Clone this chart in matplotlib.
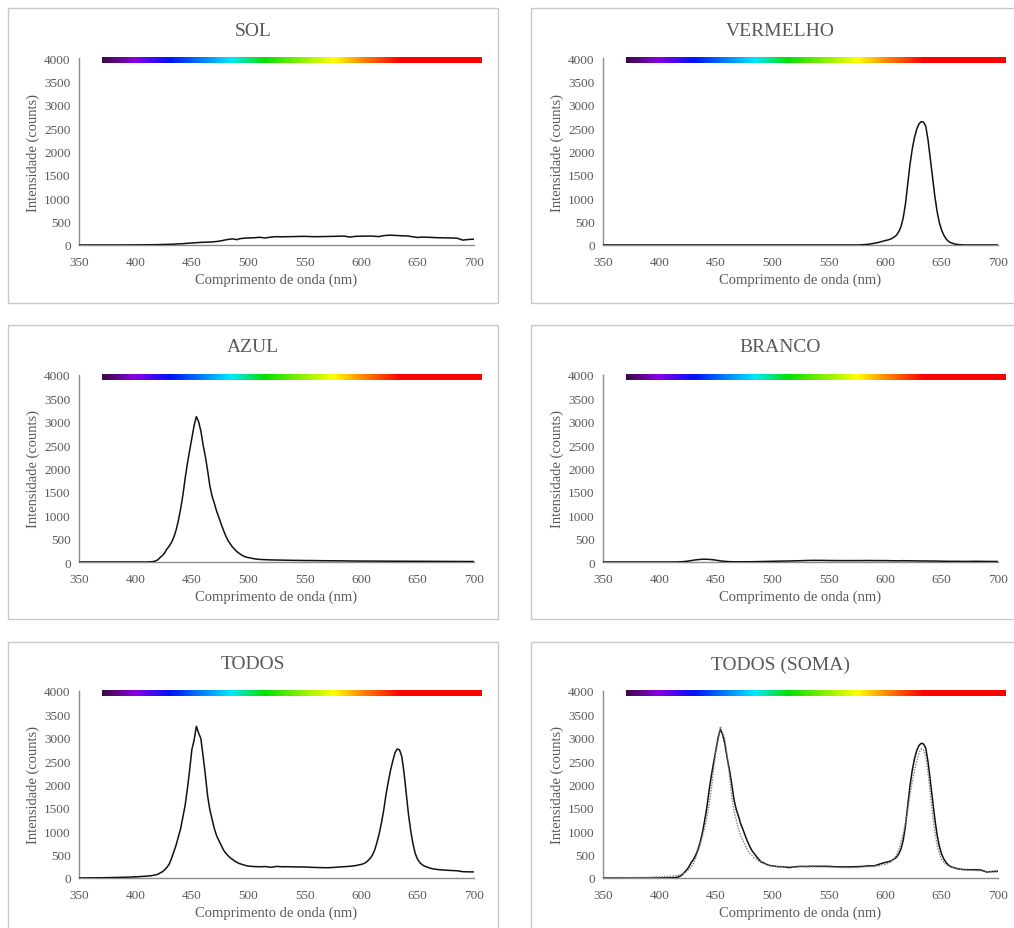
import numpy as np
import matplotlib
matplotlib.use('Agg')
import matplotlib.pyplot as plt
from matplotlib.colors import LinearSegmentedColormap
from matplotlib.patches import Rectangle

plt.rcParams['font.family'] = ['Liberation Serif', 'DejaVu Serif']

# wavelength grid (nm): finer steps around the two LED peaks
wavelength = np.concatenate([np.arange(350, 410, 10), np.arange(410, 500, 2),
                             np.arange(500, 596, 5), np.arange(596, 670, 2),
                             np.arange(670, 701, 5)])

sol = np.array([
    0, 0, 0, 0, 0, 2,
    3, 4, 5, 6, 7, 8, 9, 11, 12, 13,
    14, 16, 18, 21, 23, 25, 29, 32, 36, 40,
    43, 47, 50, 53, 56, 58, 60, 62, 64, 66,
    70, 75, 82, 90, 100, 110, 118, 126, 130, 122,
    115, 132, 140, 144, 148,
    150, 155, 165, 150, 170, 178, 175, 178, 180, 183,
    185, 180, 178, 180, 182, 185, 188, 190, 170, 185,
    186, 187, 188, 189, 190, 190, 191, 190, 186, 183,
    180, 192, 200, 205, 208, 210, 207, 205, 203, 200,
    198, 196, 195, 190, 182, 175, 168, 160, 165, 170,
    168, 166, 165, 162, 160, 158, 156,
    155, 152, 150, 145, 105, 118, 125])

vermelho = np.array([
    0, 0, 0, 0, 0, 0,
    0, 0, 0, 0, 0, 0, 0, 0, 0, 0,
    0, 0, 0, 0, 0, 0, 0, 0, 0, 0,
    0, 0, 0, 0, 0, 0, 0, 0, 0, 0,
    0, 0, 0, 0, 0, 0, 0, 0, 0, 0,
    0, 0, 0, 0, 0,
    0, 0, 0, 0, 0, 0, 0, 0, 0, 0,
    0, 0, 0, 0, 0, 0, 5, 15, 35, 60,
    70, 80, 95, 105, 120, 140, 170, 210, 280, 390,
    580, 880, 1300, 1720, 2050, 2300, 2480, 2590, 2640, 2630,
    2540, 2250, 1850, 1450, 1050, 720, 480, 320, 210, 130,
    80, 50, 35, 20, 12, 6, 3,
    0, 0, 0, 0, 0, 0, 0])

azul = np.array([
    0, 0, 0, 0, 0, 0,
    0, 2, 4, 10, 25, 50, 100, 140, 200, 280,
    340, 420, 530, 680, 880, 1130, 1420, 1780, 2100, 2380,
    2650, 2920, 3110, 3000, 2800, 2500, 2250, 1950, 1620, 1400,
    1250, 1080, 950, 810, 680, 560, 460, 390, 320, 270,
    220, 185, 150, 125, 105,
    95, 70, 55, 50, 45, 42, 40, 38, 35, 34,
    32, 31, 30, 28, 27, 26, 25, 24, 22, 21,
    20, 20, 20, 20, 19, 19, 19, 19, 19, 18,
    18, 18, 18, 18, 17, 17, 17, 17, 17, 16,
    16, 16, 16, 16, 15, 15, 15, 15, 15, 15,
    15, 14, 14, 14, 14, 13, 13,
    13, 12, 12, 11, 11, 10, 10])

branco = np.array([
    0, 0, 0, 0, 0, 0,
    0, 0, 0, 2, 4, 6, 10, 16, 22, 30,
    38, 45, 50, 55, 58, 60, 58, 56, 52, 46,
    40, 32, 24, 18, 14, 10, 8, 6, 5, 5,
    5, 4, 5, 5, 5, 6, 6, 7, 8, 9,
    10, 11, 12, 13, 14,
    15, 18, 20, 22, 25, 28, 32, 35, 35, 34,
    32, 31, 30, 30, 30, 31, 30, 32, 31, 30,
    30, 30, 30, 29, 28, 27, 26, 25, 26, 27,
    28, 27, 26, 25, 25, 24, 23, 23, 22, 22,
    22, 21, 21, 20, 20, 19, 18, 17, 16, 15,
    15, 14, 14, 15, 15, 14, 13,
    12, 13, 15, 14, 12, 11, 10])

todos = np.array([
    0, 3, 5, 10, 15, 25,
    40, 45, 50, 58, 68, 80, 110, 135, 180, 230,
    300, 420, 560, 700, 880, 1050, 1300, 1550, 1900, 2300,
    2750, 2950, 3245, 3100, 2980, 2600, 2200, 1750, 1450, 1250,
    1050, 900, 800, 700, 600, 530, 480, 430, 400, 360,
    335, 310, 295, 280, 265,
    255, 245, 240, 245, 228, 248, 240, 242, 238, 236,
    235, 230, 225, 222, 220, 225, 235, 242, 250, 265,
    270, 280, 290, 305, 330, 370, 420, 490, 600, 760,
    950, 1180, 1450, 1780, 2050, 2300, 2500, 2680, 2760, 2740,
    2600, 2250, 1800, 1350, 1000, 720, 520, 400, 330, 285,
    255, 238, 220, 205, 195, 188, 180,
    175, 168, 160, 155, 135, 132, 130])

# measured spectra added together
soma = sol + vermelho + azul + branco

titles = ['SOL', 'VERMELHO', 'AZUL', 'BRANCO', 'TODOS', 'TODOS (SOMA)']
series = [sol, vermelho, azul, branco, todos, soma]

x_ticks = np.arange(350, 701, 50)
y_ticks = np.arange(0, 4001, 500)

# visible spectrum strip drawn above the curves
strip_nm = [370, 398, 430, 484, 513, 575, 602, 634, 706]
strip_colors = ['#3a0a45', '#8a00e0', '#0010ff', '#00e8ff', '#00e000',
                '#ffff00', '#ff8000', '#ff0000', '#ff0000']
strip_pos = [(v - strip_nm[0]) / (strip_nm[-1] - strip_nm[0]) for v in strip_nm]
spectrum = LinearSegmentedColormap.from_list('spectrum', list(zip(strip_pos, strip_colors)))

text_color = '#595959'
W, H = 1014, 929
fig = plt.figure(figsize=(W / 100, H / 100), dpi=100)

# pixel layout: columns (box left, box right, axes left), rows (box top, box bottom, axes top)
cols = [(8, 498, 79), (531, 1030, 603)]
rows = [(9, 304, 59), (326, 620, 376), (643, 950, 692)]
ax_w, ax_h = 395, 187

for i, (title, y) in enumerate(zip(titles, series)):
    bl, br, axl = cols[i % 2]
    bt, bb, axt = rows[i // 2]
    fig.patches.append(Rectangle((bl / W, 1 - bb / H), (br - bl) / W, (bb - bt) / H,
                                 transform=fig.transFigure, fill=False,
                                 edgecolor='#c8c8c8', lw=1.0))
    fig.text((bl + br) / 2 / W, 1 - (bt + 22) / H, title, ha='center', va='center',
             fontsize=14, color=text_color)

    ax = fig.add_axes([axl / W, 1 - (axt + ax_h) / H, ax_w / W, ax_h / H])
    ax.imshow(np.linspace(0, 1, 256)[None, :], cmap=spectrum, aspect='auto',
              extent=[strip_nm[0], strip_nm[-1], 3890, 4000], clip_on=False, zorder=1)
    ax.plot(wavelength, y, color='#111111', lw=1.1, zorder=3)
    if title == 'TODOS (SOMA)':
        ax.plot(wavelength, todos, color='#808080', lw=1.0, ls=(0, (1, 1)), zorder=4)

    ax.set_xlim(350, 700)
    ax.set_ylim(0, 4000)
    ax.set_xticks(x_ticks)
    ax.set_yticks(y_ticks)
    ax.tick_params(length=0, labelsize=9.5, labelcolor=text_color, pad=6)
    ax.tick_params(axis='x', pad=8)
    for side in ['top', 'right']:
        ax.spines[side].set_visible(False)
    for side in ['left', 'bottom']:
        ax.spines[side].set_color('#8c8c8c')
        ax.spines[side].set_linewidth(1.0)
    ax.set_xlabel('Comprimento de onda (nm)', fontsize=10.5, color=text_color)
    ax.set_ylabel('Intensidade (counts)', fontsize=10.5, color=text_color)
    ax.xaxis.set_label_coords(0.5, -0.145)
    ax.yaxis.set_label_coords(-0.1, 0.5)

fig.savefig('out.png', dpi=100)
